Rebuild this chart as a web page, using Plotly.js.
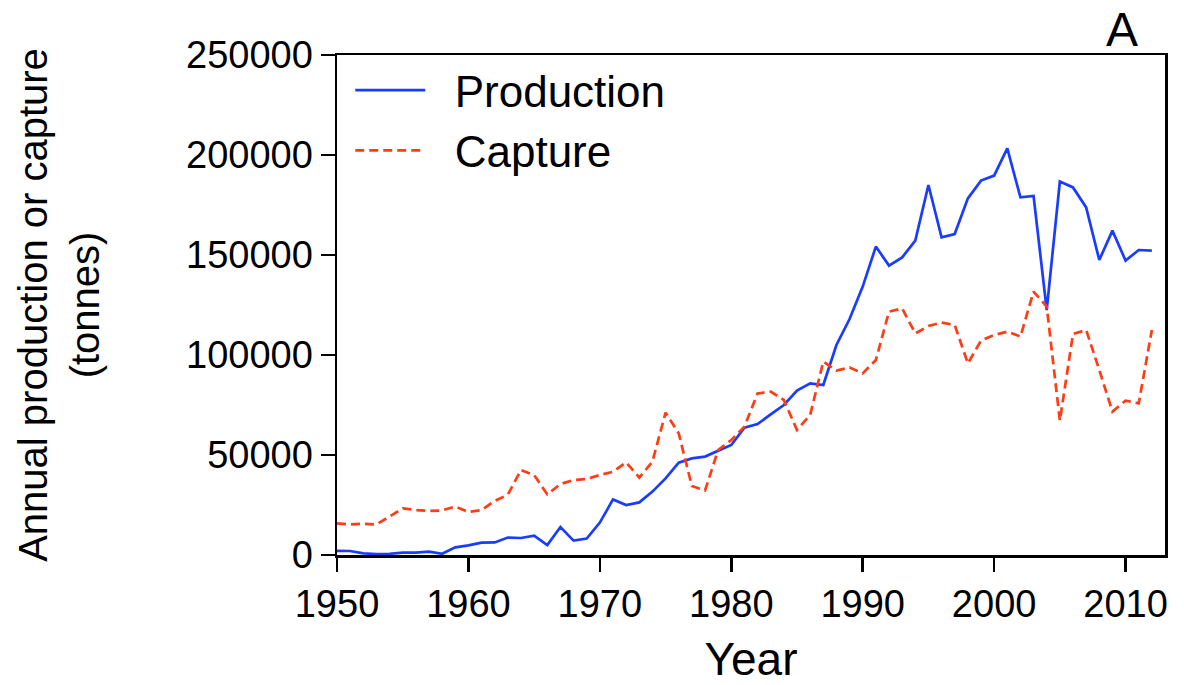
<!DOCTYPE html>
<html>
<head>
<meta charset="utf-8">
<script src="https://cdn.plot.ly/plotly-3.0.1.min.js"></script>
<style>html,body{margin:0;padding:0;background:#fff;}#chart{width:1184px;height:685px;}</style>
</head>
<body>
<div id="chart"></div>
<script>
const years = [1950,1951,1952,1953,1954,1955,1956,1957,1958,1959,
               1960,1961,1962,1963,1964,1965,1966,1967,1968,1969,
               1970,1971,1972,1973,1974,1975,1976,1977,1978,1979,
               1980,1981,1982,1983,1984,1985,1986,1987,1988,1989,
               1990,1991,1992,1993,1994,1995,1996,1997,1998,1999,
               2000,2001,2002,2003,2004,2005,2006,2007,2008,2009,
               2010,2011,2012];
const production = [2100,2000,800,500,600,1200,1200,1700,600,3800,
                    4800,6200,6300,8700,8500,9700,5000,14000,7200,8200,
                    16200,27800,25000,26300,31700,38300,46200,48300,49200,52200,
                    55000,63700,65500,70300,75000,82200,85800,85000,105000,118000,
                    134200,154200,144700,148800,157200,185000,158800,160500,178300,187200,
                    189700,203300,178800,179500,122500,186700,183800,173800,147500,162200,
                    147200,152500,152200];
const capture = [15800,15300,15600,15300,19200,23300,22500,22000,22300,24200,
                 21500,22500,27000,30200,42500,40000,30300,35500,37500,38000,
                 40000,41600,46300,38700,46700,71200,60800,34500,32200,52500,
                 57500,64200,80800,81700,77500,62500,70000,96700,92200,93800,
                 90800,97500,121700,123300,110800,114500,116200,115000,95800,107200,
                 110000,111700,109200,131700,124200,67200,110500,112500,92500,71700,
                 77200,75800,112500];
const seriesNames = ['Production','Capture'];
const xTicks = [1950,1960,1970,1980,1990,2000,2010];
const yTicks = [0,50000,100000,150000,200000,250000];

const FONT = 'Arial, "Liberation Sans", Helvetica, sans-serif';
const GAP = '\u00a0\u00a0';

const traces = [
  {x: years, y: production, name: GAP + seriesNames[0], type: 'scatter', mode: 'lines',
   line: {color: '#1a3cff', width: 2.7}},
  {x: years, y: capture, name: GAP + seriesNames[1], type: 'scatter', mode: 'lines',
   line: {color: '#ff3c14', width: 2.7, dash: '9px,5px'}}
];

const layout = {
  width: 1184, height: 685,
  margin: {l: 337, r: 19, t: 55, b: 130},
  paper_bgcolor: '#fff', plot_bgcolor: '#fff',
  font: {family: FONT, color: '#000'},
  showlegend: true,
  legend: {x: 0.016, y: 1.0, xanchor: 'left', yanchor: 'top',
           font: {size: 44, family: FONT, color: '#000'},
           bgcolor: 'rgba(0,0,0,0)', itemwidth: 70, tracegroupgap: 0},
  xaxis: {range: [1950, 2013], tickvals: xTicks, ticktext: xTicks.map(String),
          ticks: 'outside', ticklen: 14, tickwidth: 2.5, tickcolor: '#000',
          showline: true, linewidth: 2.5, linecolor: '#000', mirror: true,
          showgrid: false, zeroline: false,
          tickfont: {size: 38, family: FONT},
          title: {text: 'Year', font: {size: 46, family: FONT}, standoff: 25}},
  yaxis: {range: [0, 250000], tickvals: yTicks, ticktext: yTicks.map(String),
          ticks: 'outside', ticklen: 14, tickwidth: 2.5, tickcolor: '#000',
          showline: true, linewidth: 2.5, linecolor: '#000', mirror: true,
          showgrid: false, zeroline: false,
          tickfont: {size: 38, family: FONT},
          title: {text: 'Annual production or capture<br>(tonnes)', font: {size: 40, family: FONT}, standoff: 74}},
  annotations: [{xref: 'paper', yref: 'paper', x: 0.948, y: 1.05, xanchor: 'center', yanchor: 'middle',
                 text: 'A', showarrow: false, font: {size: 48, family: FONT, color: '#000'}}]
};

Plotly.newPlot('chart', traces, layout, {displayModeBar: false, staticPlot: true});
</script>
</body>
</html>
